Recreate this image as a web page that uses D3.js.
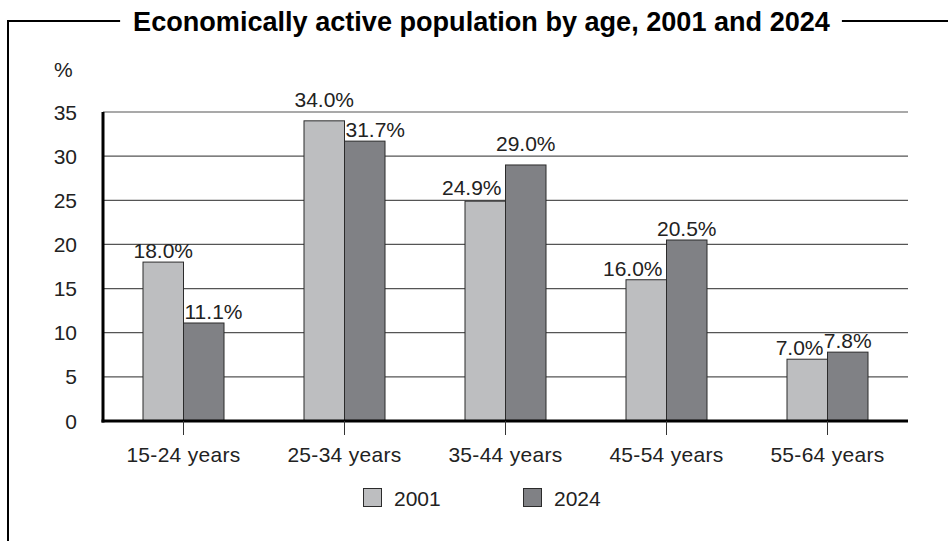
<!DOCTYPE html>
<html><head><meta charset="utf-8">
<script src="https://cdn.jsdelivr.net/npm/d3@7"></script>
<style>
html,body{margin:0;padding:0;background:#fff;}
text{font-family:"Liberation Sans",Arial,Helvetica,sans-serif;}
</style></head>
<body>
<svg id="chart" width="948" height="541"></svg>
<script>
const title = "Economically active population by age, 2001 and 2024";
const categories = ["15-24 years","25-34 years","35-44 years","45-54 years","55-64 years"];
const seriesNames = ["2001","2024"];
const values2001 = [18.0, 34.0, 24.9, 16.0, 7.0];
const values2024 = [11.1, 31.7, 29.0, 20.5, 7.8];
const yTicks = [0,5,10,15,20,25,30,35];
const colors = ["#bdbec0","#808185"];

(function(){
const svg = d3.select("#chart");
const W = 948, H = 541;
const pLeft = 103, pRight = 908, pTop = 112, pBottom = 421;
const txt = "#222";

// frame + title
const titleText = svg.append("text")
  .attr("x", 481.5).attr("y", 31)
  .attr("text-anchor","middle")
  .attr("font-weight","bold").attr("font-size",24).attr("fill","#000")
  .text(title);
const tl = titleText.node().getComputedTextLength();
titleText.attr("font-size", 24 * 697 / tl);
const tb = titleText.node().getBBox();
const fy = 21;
svg.append("path")
  .attr("d", `M${tb.x-13},${fy}H8V${H}`)
  .attr("fill","none").attr("stroke","#000").attr("stroke-width",2);
svg.append("line").attr("x1", tb.x+tb.width+12).attr("x2", W).attr("y1", fy).attr("y2", fy)
  .attr("stroke","#000").attr("stroke-width",2);

const x = d3.scaleBand().domain(categories).range([pLeft, pRight]).padding(0);
const y = d3.scaleLinear().domain([0,35]).range([pBottom, pTop]);
const barW = 40.5;
const xs = d3.scaleBand().domain(seriesNames).range([0, barW*2]);

// gridlines
const gridVals = yTicks.filter(d=>d>0);
svg.append("g").selectAll("line").data(gridVals).join("line")
  .attr("x1", pLeft).attr("x2", pRight)
  .attr("y1", d=>y(d)).attr("y2", d=>y(d))
  .attr("stroke","#555").attr("stroke-width",1.2);

// y tick labels
svg.append("g").selectAll("text").data(yTicks).join("text")
  .attr("x", 77).attr("y", d=>y(d)+7.5)
  .attr("text-anchor","end").attr("font-size",21).attr("fill",txt)
  .text(d=>d);
svg.append("text").attr("x", 54).attr("y", 77).attr("font-size",21).attr("fill",txt).text("%");

// bars
const data = categories.map((c,i)=>({cat:c, vals:[values2001[i], values2024[i]]}));
const g = svg.append("g");
const lg = svg.append("g");
data.forEach(d=>{
  const cx = x(d.cat) + x.bandwidth()/2;
  const x0 = cx - barW;
  seriesNames.forEach((s,j)=>{
    const v = d.vals[j];
    const bx = x0 + xs(s);
    g.append("rect")
      .attr("x", bx).attr("y", y(v))
      .attr("width", barW).attr("height", y(0)-y(v))
      .attr("fill", colors[j]).attr("stroke","#2b2b2b").attr("stroke-width",1);
    const other = d.vals[1-j];
    let anchor = "middle", lx = bx + barW/2;
    if (j===0 && other > v) { anchor = "end"; lx = bx + barW - 4; }
    if (j===1 && other > v) { anchor = "start"; lx = bx + 1; }
    const barTop = y(v);
    let base = barTop - 4;
    gridVals.forEach(gv=>{
      const gy = y(gv);
      if (gy > base - 13 && gy < barTop + 2) base = Math.min(base, gy - 5);
    });
    lg.append("text")
      .attr("x", lx).attr("y", base)
      .attr("text-anchor", anchor).attr("font-size",21).attr("fill",txt)
      .text(v.toFixed(1) + "%");
  });
});

// axes lines
svg.append("line").attr("x1", pLeft).attr("x2", pLeft).attr("y1", pTop).attr("y2", pBottom+1.5)
  .attr("stroke","#000").attr("stroke-width",3);
svg.append("line").attr("x1", pLeft-1.5).attr("x2", pRight).attr("y1", pBottom).attr("y2", pBottom)
  .attr("stroke","#000").attr("stroke-width",3);

// category ticks and labels
const cg = svg.append("g");
categories.forEach(c=>{
  const cx = x(c) + x.bandwidth()/2;
  cg.append("line").attr("x1",cx).attr("x2",cx).attr("y1",pBottom).attr("y2",435)
    .attr("stroke","#333").attr("stroke-width",1);
  cg.append("text").attr("x",cx).attr("y",462).attr("text-anchor","middle")
    .attr("font-size",21).attr("letter-spacing","0.3").attr("fill",txt).text(c);
});

// legend
const legX = [363, 523];
seriesNames.forEach((s,j)=>{
  svg.append("rect").attr("x", legX[j]+0.5).attr("y", 488.5).attr("width",18).attr("height",18)
    .attr("fill", colors[j]).attr("stroke","#2b2b2b").attr("stroke-width",1);
  svg.append("text").attr("x", legX[j]+31).attr("y", 506).attr("font-size",21)
    .attr("fill",txt).text(s);
});
})();
</script>
</body></html>
